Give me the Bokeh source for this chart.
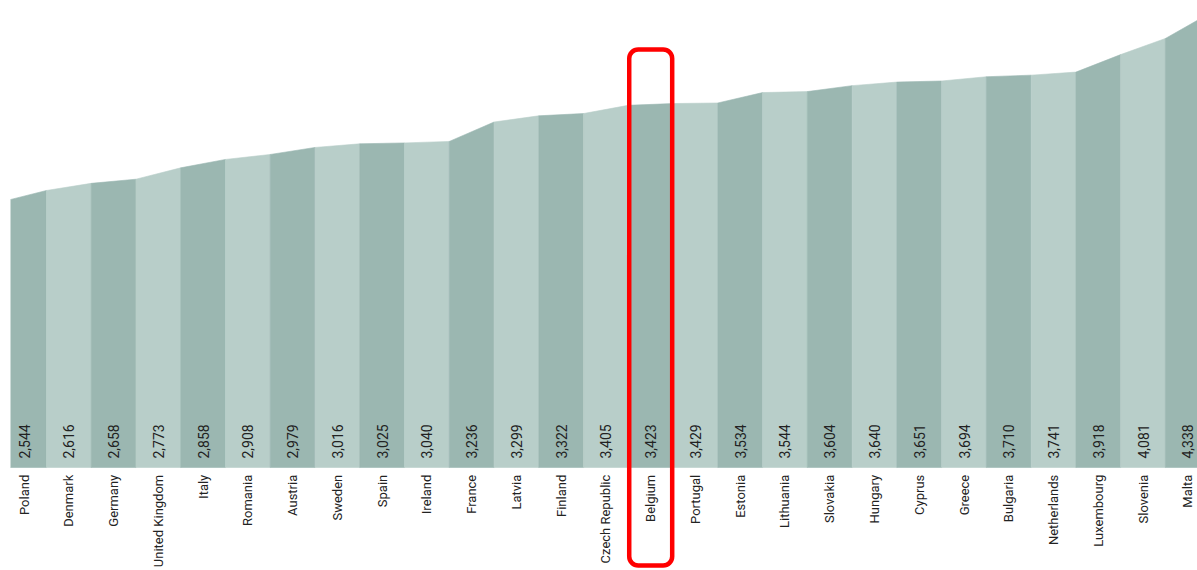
from math import pi
from bokeh.plotting import figure
from bokeh.models import Range1d, ColumnDataSource
from bokeh.core.properties import value
from bokeh.embed import file_html
from bokeh.resources import INLINE

# ---- data ----
countries = ["Poland", "Denmark", "Germany", "United Kingdom", "Italy", "Romania",
             "Austria", "Sweden", "Spain", "Ireland", "France", "Latvia", "Finland",
             "Czech Republic", "Belgium", "Portugal", "Estonia", "Lithuania",
             "Slovakia", "Hungary", "Cyprus", "Greece", "Bulgaria", "Netherlands",
             "Luxembourg", "Slovenia", "Malta"]
values = [2544, 2616, 2658, 2773, 2858, 2908, 2979, 3016, 3025, 3040, 3236, 3299,
          3322, 3405, 3423, 3429, 3534, 3544, 3604, 3640, 3651, 3694, 3710, 3741,
          3918, 4081, 4338]
start_value = 2430
value_labels = ["2,544", "2,616", "2,658", "2,773", "2,858", "2,908", "2,979", "3,016",
                "3,025", "3,040", "3,236", "3,299", "3,322", "3,405", "3,423", "3,429",
                "3,534", "3,544", "3,604", "3,640", "3,651", "3,694", "3,710", "3,741",
                "3,918", "4,081", "4,338"]
highlight = "Belgium"

# ---- layout / style ----
BASE = -257
VAL_Y = -166
LAB_Y = -330
DARK = "#9bb7b1"
LIGHT = "#b8cec9"
FONT = value("Roboto")

n = len(countries)
xs, ys, cols = [], [], []
for i in range(n):
    prev = start_value if i == 0 else values[i - 1]
    xs.append([i, i + 1, i + 1, i])
    ys.append([prev, values[i], BASE, BASE])
    cols.append(DARK if i % 2 == 0 else LIGHT)

p = figure(width=1197, height=568, output_backend="svg", toolbar_location=None,
           x_range=Range1d(0.197, 26.716), y_range=Range1d(-1278, 4384),
           min_border_left=10, min_border_right=0, min_border_top=8, min_border_bottom=0)
p.xaxis.visible = False
p.yaxis.visible = False
p.grid.visible = False
p.outline_line_color = None
p.background_fill_color = "white"
p.border_fill_color = "white"

p.patches(xs=xs, ys=ys, fill_color=cols, line_color=cols, line_width=0.6)

centers = [i + 0.5 for i in range(n)]
src = ColumnDataSource(dict(x=centers, lab=countries, val=value_labels,
                            vy=[VAL_Y] * n, ly=[LAB_Y] * n))
p.text(x="x", y="vy", text="val", source=src, angle=pi / 2, text_align="left",
       text_baseline="middle", text_font=FONT, text_font_size="14px",
       text_color="#222222")
p.text(x="x", y="ly", text="lab", source=src, angle=pi / 2, text_align="right",
       text_baseline="middle", text_font=FONT, text_font_size="13px",
       text_color="#222222")

hi = countries.index(highlight)
p.quad(left=[hi + 0.02], right=[hi + 0.98], top=[3970], bottom=[-1248],
       fill_alpha=0, line_color="#ff0000", line_width=4.5, border_radius=9)

open("out.html", "w").write(file_html(p, INLINE))
